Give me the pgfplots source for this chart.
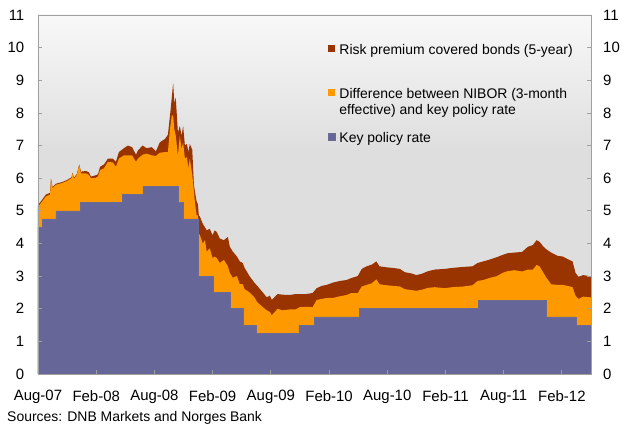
\documentclass[border=0pt]{standalone}
\usepackage{pgfplots}
\pgfplotsset{compat=1.18}
\usepackage{pgfplotstable}
\usepackage{fontspec}
\setmainfont{Liberation Sans}
\definecolor{rp}{HTML}{993300}
\definecolor{nib}{HTML}{FF9900}
\definecolor{kpr}{HTML}{666699}
\definecolor{frame}{HTML}{A0A0A0}
\definecolor{bgbot}{HTML}{DEDEDE}
\definecolor{bgtop}{HTML}{F8F8F8}
\pgfdeclareverticalshading{bgshade}{100bp}{color(0bp)=(bgbot); color(25bp)=(bgbot); color(56bp)=(bgbot); color(75bp)=(bgtop); color(100bp)=(bgtop)}

% key policy rate (months since 1 Aug 2007)
\pgfplotstableread{
m v
0 4.50
0.45 4.75
1.83 5.00
4.37 5.25
8.73 5.50
10.8 5.75
14.47 5.25
14.93 4.75
16.53 3.00
18.1 2.50
19.8 2.00
21.17 1.50
22.53 1.25
26.9 1.50
28.5 1.75
33.13 2.00
45.37 2.25
52.43 1.75
55.43 1.50
57 1.50
}\keyrate

% nib = key rate + NIBOR spread ; tot = nib + risk premium
\pgfplotstableread{
m nib tot
0 5.10 5.18
0.2 5.20 5.25
0.82 5.44 5.50
1.24 5.50 5.55
1.34 5.97 5.99
1.5 5.70 5.73
1.85 5.80 5.83
2.47 5.85 5.88
2.88 5.90 5.93
3.2 5.95 5.98
3.45 6.00 6.03
3.57 6.15 6.17
3.7 5.98 6.01
4.0 6.10 6.13
4.25 6.40 6.42
4.43 6.15 6.20
4.94 6.15 6.22
5.25 6.10 6.18
5.46 6.00 6.05
5.87 6.00 6.08
6.18 6.05 6.12
6.4 6.25 6.35
6.8 6.30 6.42
7.2 6.50 6.60
7.72 6.48 6.60
8.03 6.35 6.50
8.34 6.60 6.80
8.86 6.70 6.92
9.27 6.70 7.00
9.7 6.70 6.95
10.1 6.50 6.72
10.3 6.60 6.85
10.78 6.72 7.00
11.2 6.75 6.92
11.74 6.70 6.95
12.15 6.68 6.82
12.56 6.78 7.10
13.08 6.80 7.20
13.39 6.80 7.33
13.6 7.50 7.90
13.8 7.94 8.50
13.93 7.90 8.92
14.05 7.50 8.30
14.2 7.30 8.47
14.42 6.70 7.40
14.62 7.30 7.60
14.8 6.90 7.30
14.96 7.10 7.60
15.14 6.60 7.00
15.35 6.65 7.05
15.5 6.30 6.80
15.65 6.60 7.05
15.9 6.10 6.87
16.07 5.60 5.80
16.17 5.28 5.60
16.34 4.88 5.30
16.48 4.85 5.20
16.58 4.30 4.85
16.68 4.26 4.83
16.99 4.00 4.60
17.2 4.10 4.50
17.4 3.75 4.40
17.7 3.85 4.45
18.0 3.55 4.25
18.2 3.60 4.40
18.43 3.55 4.35
18.74 3.40 4.15
19.16 3.50 4.10
19.57 3.30 4.20
19.77 3.10 3.90
20.08 2.95 3.75
20.5 3.00 3.60
20.8 2.75 3.45
21.1 2.75 3.40
21.3 2.60 3.25
21.8 2.50 3.00
22.3 2.35 2.80
22.6 2.20 2.70
23.17 2.05 2.50
23.58 1.95 2.35
23.9 1.90 2.40
24.1 1.80 2.27
24.7 2.00 2.45
25.2 1.95 2.43
25.95 1.98 2.42
26.57 1.98 2.45
26.98 2.05 2.45
27.6 2.06 2.45
28.3 2.05 2.48
28.73 2.27 2.63
29.25 2.30 2.70
29.76 2.33 2.73
30.4 2.33 2.80
31.1 2.38 2.85
31.8 2.42 2.88
32.3 2.48 2.94
32.96 2.48 3.00
33.37 2.68 3.22
33.88 2.73 3.30
34.4 2.78 3.35
34.88 2.90 3.45
35.2 2.75 3.30
35.9 2.72 3.27
36.56 2.70 3.25
37.3 2.68 3.22
37.8 2.60 3.12
38.5 2.57 3.08
39.0 2.55 3.03
39.55 2.58 3.07
40.2 2.64 3.15
40.9 2.66 3.20
41.9 2.63 3.22
42.7 2.66 3.25
43.8 2.68 3.28
44.8 2.72 3.30
45.3 2.85 3.40
45.9 2.88 3.45
46.5 2.94 3.50
47.3 3.00 3.58
47.9 3.10 3.65
48.4 3.15 3.70
49.1 3.18 3.72
49.9 3.14 3.74
50.5 3.20 3.90
51.0 3.20 3.95
51.4 3.34 4.10
51.7 3.30 4.05
52.1 3.10 3.90
52.4 2.95 3.82
52.9 2.75 3.72
53.55 2.73 3.62
54.07 2.73 3.60
54.6 2.70 3.52
55.1 2.66 3.45
55.4 2.40 3.10
55.7 2.30 2.98
56.2 2.37 3.03
56.85 2.35 3.00
57 2.35 3.00
}\spreads

\begin{document}
\begin{tikzpicture}
\path[use as bounding box] (-38bp,-52bp) rectangle (584bp,374bp);
\begin{axis}[
  at={(0,0)}, anchor=south west,
  scale only axis, width=553bp, height=359bp,
  xmin=0, xmax=57, ymin=0, ymax=11,
  axis background/.style={shading=bgshade},
  axis line style={draw=frame, line width=0.8bp},
  tick style={draw=frame, line width=0.8bp},
  major tick length=4bp, tick align=inside,
  xtick={0,6,...,54},
  xticklabels={Aug-07,Feb-08,Aug-08,Feb-09,Aug-09,Feb-10,Aug-10,Feb-11,Aug-11,Feb-12},
  ytick={0,1,...,11},
  xtick pos=bottom, ytick pos=both,
  /pgf/number format/assume math mode=true,
  ticklabel style={font=\fontsize{15}{18}\selectfont},
  yticklabel style={anchor=east, inner sep=0pt, xshift=-13.5bp},
  xticklabel style={anchor=north, yshift=-13bp},
  axis on top,
  legend cell align=left,
  legend image code/.code={\fill[#1] (0bp,2bp) rectangle (7bp,9bp);},
  legend style={at={(axis description cs:0.5244,0.9192)}, anchor=north west,
    draw=none, fill=none, inner sep=0pt, outer sep=0pt,
    column sep=4bp, row sep=31bp,
    font=\fontsize{14}{17}\selectfont,
    cells={anchor=base west},
    nodes={inner sep=0pt, text height=10bp, text depth=3bp}},
]
\addplot[fill=rp, draw=none] table[x=m, y=tot]{\spreads} \closedcycle;
\addlegendentry{Risk premium covered bonds (5-year)}
\addplot[fill=nib, draw=none] table[x=m, y=nib]{\spreads} \closedcycle;
\addlegendentry{\vtop{\hbox{Difference between NIBOR (3-month}\hbox{effective) and key policy rate}}}
\addplot[fill=kpr, draw=kpr!80!gray, line width=0.5bp, const plot] table[x=m, y=v]{\keyrate} \closedcycle;
\addlegendentry{Key policy rate}
\end{axis}
\begin{axis}[
  at={(0,0)}, anchor=south west,
  scale only axis, width=553bp, height=359bp,
  xmin=0, xmax=57, ymin=0, ymax=11,
  axis x line=none, axis y line*=right,
  y axis line style={draw=none},
  ytick={0,1,...,11}, major tick length=0pt,
  /pgf/number format/assume math mode=true,
  ticklabel style={font=\fontsize{15}{18}\selectfont},
  yticklabel style={anchor=west, inner sep=0pt, xshift=12bp},
]
\end{axis}
\node[anchor=base west, inner sep=0pt, font=\fontsize{14}{17}\selectfont] at (-31bp,-47bp) {Sources: DNB Markets and Norges Bank};
\end{tikzpicture}
\end{document}
